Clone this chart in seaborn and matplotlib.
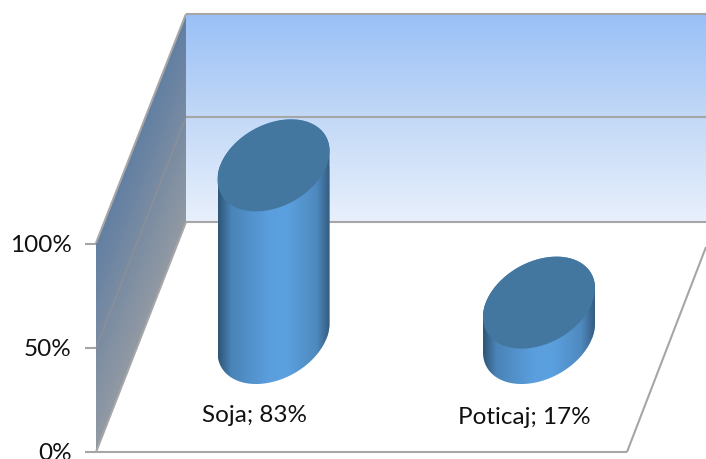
#!/usr/bin/env python3
# -*- coding: utf-8 -*-
import numpy as np
import pandas as pd
import seaborn as sns
import matplotlib.pyplot as plt
from matplotlib.colors import LinearSegmentedColormap
from matplotlib.patches import Polygon

categories = ["Soja", "Poticaj"]
shares = [83, 17]
y_ticks = [0, 50, 100]
y_labels = ["0%", "50%", "100%"]

W, H = 706, 459
PX_PER_PCT = 2.08   # 100% = 208 px
FLOOR_Y = 452       # pixel row of the 0% axis
BASE_Y = 338        # pixel row of the cylinder base centres
BAR_X = [273.5, 539]
BAR_W = 112

sns.set_theme(style="white")
plt.rcParams['font.family'] = ['Lato', 'DejaVu Sans']

fig = plt.figure(figsize=(W / 100, H / 100), dpi=100)
fig.patch.set_facecolor('white')

# frame of the fake 3d box, in pixels
bg = fig.add_axes([0, 0, 1, 1], zorder=0)
bg.axis('off')

wall_cmap = LinearSegmentedColormap.from_list('wall', ['#99c0f6', '#c3d9f7', '#e8f0fc'])
bg.imshow(np.linspace(0, 1, 256)[:, None], cmap=wall_cmap, aspect='auto',
          extent=[186, W, 222, 14], zorder=1)

side_cmap = LinearSegmentedColormap.from_list('side', ['#627fa3', '#7a8ca2', '#929aa4'])
xx, yy = np.meshgrid(np.arange(96, 187), np.arange(14, 453))
top_edge = 243 - (xx - 96) * 229 / 90
side = (yy - top_edge) / 208
side_img = bg.imshow(side, cmap=side_cmap, aspect='auto', vmin=0, vmax=1,
                     extent=[96, 187, 453, 14], zorder=1)
side_img.set_clip_path(Polygon([(96, 243), (186, 14), (186, 222), (96, 452)],
                               transform=bg.transData))

line_kw = dict(color='#a6a6a6', lw=1.5, zorder=2, solid_capstyle='butt')
bg.plot([186, W], [14, 14], **line_kw)
bg.plot([186, W], [117, 117], **line_kw)
bg.plot([186, W], [222, 222], **line_kw)
bg.plot([96, 186], [243, 14], **line_kw)
bg.plot([96, 186], [452, 222], **line_kw)
bg.plot([96, 186], [348, 117], color='#8b9098', lw=1, zorder=2)
bg.plot([96, 627], [452, 452], **line_kw)
bg.plot([627, 706], [452, 247], **line_kw)
bg.set_xlim(0, W)
bg.set_ylim(H, 0)

# value axis, spine moved to the front edge of the box
ax = fig.add_axes([0, 0, 1, 1], zorder=1)
ax.patch.set_alpha(0)
ax.set_xlim(0, W)
ax.set_ylim((FLOOR_Y - H) / PX_PER_PCT, FLOOR_Y / PX_PER_PCT)
ax.spines['left'].set_position(('data', 96))
ax.spines['left'].set_visible(False)
for axis in ['top', 'bottom', 'right']:
    ax.spines[axis].set_visible(False)
ax.set_xticks([])
ax.set_yticks(y_ticks)
ax.set_yticklabels(y_labels, size=17.5, color='#111111')
ax.tick_params(axis='y', left=True, length=8, width=1.5, color='#a6a6a6', pad=9.5)

# cylinders
bars = fig.add_axes([0, 0, 1, 1], zorder=2)
bars.patch.set_alpha(0)
df = pd.DataFrame({"x": BAR_X, "share": shares})
sns.barplot(data=df, x="x", y="share", native_scale=True, color='#5ba0df', saturation=1,
            width=BAR_W / (BAR_X[1] - BAR_X[0]), ax=bars)

body_cmap = LinearSegmentedColormap.from_list(
    'body', [(0, '#2e5575'), (0.12, '#4a84b8'), (0.45, '#5a9edd'), (0.62, '#5ba0df'),
             (0.88, '#4f8abf'), (1, '#345c80')])
tilt_x = 17.5
half_h = 46 / PX_PER_PCT
a = np.sqrt((BAR_W / 2) ** 2 - tilt_x ** 2)
phi = np.arctan2(tilt_x, a)


def ellipse(cx, cy, t):
    return np.column_stack([cx + a * np.cos(t) + tilt_x * np.sin(t), cy + half_h * np.sin(t)])


for bar in list(bars.patches):
    left = bar.get_x()
    right = left + bar.get_width()
    cx = left + bar.get_width() / 2
    top = bar.get_height()
    # silhouette: down the left side, round the lower half of the base, up the right side
    lower = ellipse(cx, 0, np.linspace(np.pi + phi, 2 * np.pi + phi, 120))
    upper = ellipse(cx, top, np.linspace(phi, np.pi + phi, 120))
    clip = Polygon(np.vstack([lower, upper]), closed=True, transform=bars.transData,
                   fc='none', ec='none')
    bars.add_patch(clip)
    bar.set_clip_path(clip)
    img = bars.imshow(np.linspace(0, 1, 256)[None, :], cmap=body_cmap, aspect='auto',
                      extent=[left, right, -60, top + 30], zorder=3)
    img.set_clip_path(clip)
    top_face = ellipse(cx, top, np.linspace(0, 2 * np.pi, 240))
    bars.add_patch(Polygon(top_face, closed=True, fc='#44779f', ec='none', zorder=4))

bars.set_xlim(0, W)
bars.set_ylim((BASE_Y - H) / PX_PER_PCT, BASE_Y / PX_PER_PCT)
bars.axis('off')

# data labels
for name, val, lx, ly in zip(categories, shares, [255, 524.5], [415, 418]):
    bars.annotate(f"{name}; {val}%", xy=(lx, H - ly), xycoords='figure pixels',
                  ha='center', va='center', fontsize=17.5, color='#111111', zorder=5)

plt.savefig('out.png', dpi=100)
